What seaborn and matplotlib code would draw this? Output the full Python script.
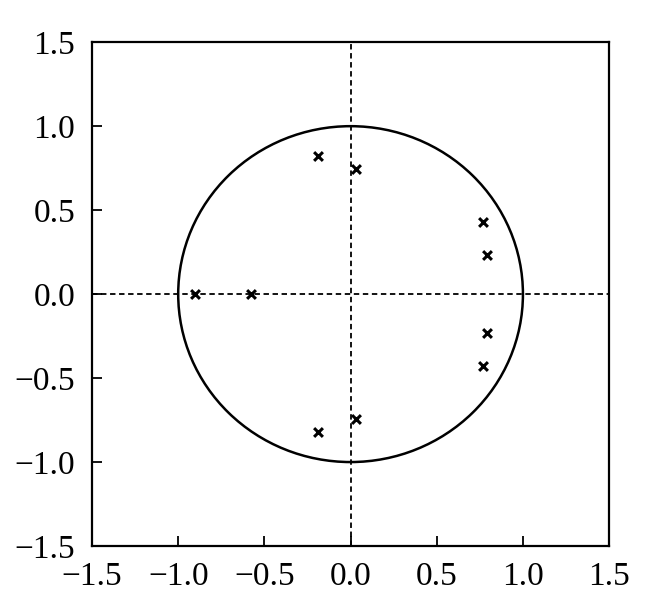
import numpy as np
import pandas as pd
import seaborn as sns
import matplotlib
matplotlib.use("Agg")
import matplotlib.pyplot as plt
from matplotlib.patches import Circle

# pole locations
pole_re = [-0.19, 0.03, 0.77, 0.79, 0.79, 0.77, -0.19, 0.03, -0.90, -0.58]
pole_im = [0.82, 0.745, 0.43, 0.23, -0.23, -0.43, -0.82, -0.745, 0.0, 0.0]
ticks = [-1.5, -1.0, -0.5, 0.0, 0.5, 1.0, 1.5]
tick_labels = ["\u22121.5", "\u22121.0", "\u22120.5", "0.0", "0.5", "1.0", "1.5"]

df = pd.DataFrame({"re": pole_re, "im": pole_im})

sns.set_style("white")
plt.rcParams['font.family'] = ['Liberation Serif', 'DejaVu Serif']

fig = plt.figure(figsize=(6.48, 6.03), dpi=100)
ax = fig.add_axes([0.142, 0.0945, 0.798, 0.8355])

# reference lines and unit circle
ax.axhline(0, color="black", lw=1.3, ls=(0, (3, 2)), zorder=1)
ax.axvline(0, color="black", lw=1.3, ls=(0, (3, 2)), zorder=1)
ax.add_patch(Circle((0, 0), 1.0, fill=False, ec="black", lw=1.8, zorder=2))

sns.scatterplot(data=df, x="re", y="im", marker="x", color="black",
                s=40, linewidth=2.2, ax=ax, zorder=3)

ax.set_xlim(-1.5, 1.5)
ax.set_ylim(-1.5, 1.5)
ax.set_xticks(ticks)
ax.set_yticks(ticks)
ax.set_xticklabels(tick_labels)
ax.set_yticklabels(tick_labels)
ax.set_xlabel("")
ax.set_ylabel("")
ax.tick_params(direction="in", length=7, width=1.3, labelsize=24,
               colors="black", top=False, right=False, bottom=True, left=True)
ax.tick_params(axis="x", pad=11)
ax.tick_params(axis="y", pad=12)
for sp in ax.spines.values():
    sp.set_visible(True)
    sp.set_color("black")
    sp.set_linewidth(1.6)

fig.savefig("out.png", dpi=100)
